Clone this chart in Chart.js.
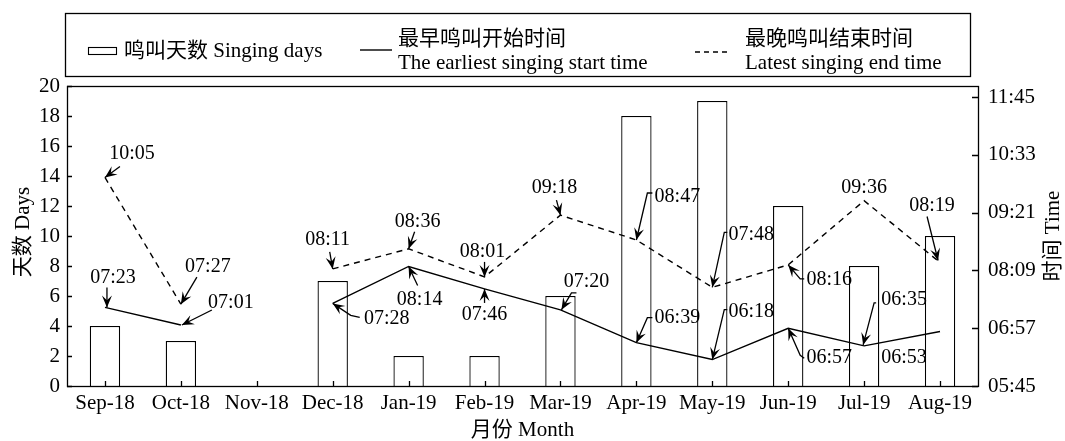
<!DOCTYPE html>
<html>
<head>
<meta charset="utf-8">
<script src="https://cdn.jsdelivr.net/npm/chart.js@4.4.1/dist/chart.umd.min.js"></script>
<style>
  body { margin: 0; background: #fff; }
</style>
</head>
<body>
<canvas id="chart" width="1065" height="441"></canvas>
<script>
// Data
const months = ['Sep-18', 'Oct-18', 'Nov-18', 'Dec-18', 'Jan-19', 'Feb-19', 'Mar-19', 'Apr-19', 'May-19', 'Jun-19', 'Jul-19', 'Aug-19'];
const singingDays = [4, 3, 0, 7, 2, 2, 6, 18, 19, 12, 8, 10];
const startTimes = ['07:23', '07:01', null, '07:28', '08:14', '07:46', '07:20', '06:39', '06:18', '06:57', '06:35', '06:53'];
const endTimes = ['10:05', '07:27', null, '08:11', '08:36', '08:01', '09:18', '08:47', '07:48', '08:16', '09:36', '08:19'];
const timeTicks = ['05:45', '06:57', '08:09', '09:21', '10:33', '11:45'];

// Callout placement (pixel offsets from the point): t = label centre, p = arrow path
const endNotes = [
    { i: 0, t: [27, -24], p: [[15, -11], [0, 0]] },
    { i: 1, t: [27, -37], p: [[16, -27], [0, 0]] },
    { i: 3, t: [-5, -29], p: [[-3, -17], [0, 0]] },
    { i: 4, t: [9, -27], p: [[6, -17], [0, 0]] },
    { i: 5, t: [-2, -25], p: [[0, -15], [0, 0]] },
    { i: 6, t: [-6, -27], p: [[-4, -15], [0, 0]] },
    { i: 7, t: [41, -43], p: [[16, -47], [11, -47], [0, 0]] },
    { i: 8, t: [39, -53], p: [[15, -55], [12, -55], [0, 0]] },
    { i: 9, t: [41, 15], p: [[16, 14], [12, 14], [0, 0]] },
    { i: 10, t: [0, -13] },
    { i: 11, t: [-8, -57], p: [[-13, -46], [-2, -2]] }
];
const startNotes = [
    { i: 0, t: [8, -30], p: [[2, -20], [2, 0]] },
    { i: 1, t: [50, -22], p: [[31, -15], [1, 0]] },
    { i: 3, t: [54, 15], p: [[27, 14], [18, 12], [0, 0]] },
    { i: 4, t: [11, 33], p: [[9, 19], [0, 0]] },
    { i: 5, t: [0, 26], p: [[0, 14], [0, 0]] },
    { i: 6, t: [26, -28], p: [[16, -17], [11, -17], [1, 0]] },
    { i: 7, t: [41, -25], p: [[16, -25], [11, -25], [0, 0]] },
    { i: 8, t: [39, -48], p: [[15, -50], [12, -50], [0, 0]] },
    { i: 9, t: [41, 30], p: [[16, 30], [12, 27], [0, 0]] },
    { i: 10, t: [40, -46], p: [[12, -43], [10, -43], [-1, -1]] },
    { i: 11, t: [-36, 26] }
];

const SERIF = "'Liberation Serif', 'Times New Roman', 'Noto Sans CJK SC', serif";

function toMin(s) {
    if (!s) return null;
    const p = s.split(':');
    return Number(p[0]) * 60 + Number(p[1]);
}

function toClock(m) {
    const h = Math.floor(m / 60);
    const mm = Math.round(m % 60);
    return String(h).padStart(2, '0') + ':' + String(mm).padStart(2, '0');
}

function arrowHead(ctx, x0, y0, x1, y1) {
    const a = Math.atan2(y1 - y0, x1 - x0);
    const c = Math.cos(a), s = Math.sin(a);
    const L = 12, W = 5;
    ctx.beginPath();
    ctx.moveTo(x1, y1);
    ctx.lineTo(x1 - L * c + W * s, y1 - L * s - W * c);
    ctx.lineTo(x1 - 0.6 * L * c, y1 - 0.6 * L * s);
    ctx.lineTo(x1 - L * c - W * s, y1 - L * s + W * c);
    ctx.closePath();
    ctx.fill();
}

function drawNotes(chart, notes, values) {
    const ctx = chart.ctx;
    const xs = chart.scales.x, ys = chart.scales.y1;
    notes.forEach(n => {
        const px = xs.getPixelForValue(n.i);
        const py = ys.getPixelForValue(toMin(values[n.i]));
        ctx.fillText(values[n.i], px + n.t[0], py + n.t[1]);
        if (!n.p) return;
        ctx.beginPath();
        n.p.forEach((q, k) => {
            if (k === 0) ctx.moveTo(px + q[0], py + q[1]);
            else ctx.lineTo(px + q[0], py + q[1]);
        });
        ctx.stroke();
        const a = n.p[n.p.length - 2], b = n.p[n.p.length - 1];
        arrowHead(ctx, px + a[0], py + a[1], px + b[0], py + b[1]);
    });
}

// Frame, inward ticks, axis titles, legend box and callouts
const decorations = {
    id: 'decorations',
    afterDraw(chart) {
        const ctx = chart.ctx;
        const area = chart.chartArea;
        const { x, y, y1 } = chart.scales;
        ctx.save();
        ctx.strokeStyle = '#000';
        ctx.fillStyle = '#000';
        ctx.lineWidth = 1.3;

        // plot frame
        ctx.strokeRect(Math.round(area.left) + 0.5, Math.round(area.top) + 0.5,
            Math.round(area.right - area.left), Math.round(area.bottom - area.top));

        // ticks pointing inwards
        ctx.beginPath();
        for (let v = 0; v <= 20; v += 2) {
            const py = Math.round(y.getPixelForValue(v)) + 0.5;
            ctx.moveTo(area.left, py);
            ctx.lineTo(area.left + 5, py);
        }
        timeTicks.forEach(t => {
            const py = Math.round(y1.getPixelForValue(toMin(t))) + 0.5;
            ctx.moveTo(area.right, py);
            ctx.lineTo(area.right - 6, py);
        });
        months.forEach((m, i) => {
            const px = Math.round(x.getPixelForValue(i)) + 0.5;
            ctx.moveTo(px, area.bottom);
            ctx.lineTo(px, area.bottom - 5);
        });
        ctx.stroke();

        // axis titles
        ctx.font = '21px ' + SERIF;
        ctx.textAlign = 'center';
        ctx.textBaseline = 'middle';
        ctx.fillText('月份 Month', (area.left + area.right) / 2, 430);
        ctx.save();
        ctx.translate(23, (area.top + area.bottom) / 2 - 4);
        ctx.rotate(-Math.PI / 2);
        ctx.fillText('天数 Days', 0, 0);
        ctx.restore();
        ctx.save();
        ctx.translate(1053, (area.top + area.bottom) / 2);
        ctx.rotate(-Math.PI / 2);
        ctx.fillText('时间 Time', 0, 0);
        ctx.restore();

        // legend
        ctx.strokeRect(65.5, 13.5, 905, 63);
        ctx.lineWidth = 1.1;
        ctx.strokeRect(88.5, 47.5, 28, 7);
        ctx.lineWidth = 1.4;
        ctx.beginPath();
        ctx.moveTo(360, 50);
        ctx.lineTo(392, 50);
        ctx.stroke();
        ctx.setLineDash([5, 4]);
        ctx.beginPath();
        ctx.moveTo(695, 52);
        ctx.lineTo(731, 52);
        ctx.stroke();
        ctx.setLineDash([]);
        ctx.textAlign = 'left';
        ctx.fillText('鸣叫天数 Singing days', 124, 51);
        ctx.fillText('最早鸣叫开始时间', 398, 39);
        ctx.fillText('The earliest singing start time', 398, 63);
        ctx.fillText('最晚鸣叫结束时间', 745, 39);
        ctx.fillText('Latest singing end time', 745, 63);

        // callouts
        ctx.font = '20px ' + SERIF;
        ctx.textAlign = 'center';
        ctx.lineWidth = 1.3;
        drawNotes(chart, endNotes, endTimes);
        drawNotes(chart, startNotes, startTimes);
        ctx.restore();
    }
};

const ctx = document.getElementById('chart').getContext('2d');
const chart = new Chart(ctx, {
    data: {
        labels: months,
        datasets: [
            {
                type: 'line',
                label: 'The earliest singing start time',
                data: startTimes.map(toMin),
                yAxisID: 'y1',
                borderColor: '#000',
                borderWidth: 1.4,
                pointRadius: 0,
                spanGaps: false,
                tension: 0,
                order: 1
            },
            {
                type: 'line',
                label: 'Latest singing end time',
                data: endTimes.map(toMin),
                yAxisID: 'y1',
                borderColor: '#000',
                borderWidth: 1.4,
                borderDash: [6, 5],
                pointRadius: 0,
                spanGaps: false,
                tension: 0,
                order: 1
            },
            {
                type: 'bar',
                label: 'Singing days',
                data: singingDays,
                yAxisID: 'y',
                backgroundColor: '#fff',
                borderColor: '#000',
                borderWidth: 1.3,
                barPercentage: 0.4,
                categoryPercentage: 1,
                order: 2
            }
        ]
    },
    options: {
        responsive: false,
        animation: false,
        layout: { padding: { top: 86, left: 0, right: 0, bottom: 0 } },
        plugins: {
            legend: { display: false },
            tooltip: { enabled: false }
        },
        scales: {
            x: {
                offset: true,
                grid: { display: false, drawTicks: false },
                border: { display: false },
                ticks: {
                    color: '#000',
                    font: { family: SERIF, size: 21 },
                    padding: 5,
                    maxRotation: 0,
                    autoSkip: false
                },
                afterFit: s => { s.height = 55; }
            },
            y: {
                position: 'left',
                min: 0,
                max: 20,
                grid: { display: false, drawTicks: false },
                border: { display: false },
                ticks: {
                    stepSize: 2,
                    color: '#000',
                    font: { family: SERIF, size: 21 },
                    padding: 7
                },
                afterFit: s => { s.width = 67; }
            },
            y1: {
                position: 'right',
                min: toMin('05:45'),
                max: 719,
                grid: { display: false, drawTicks: false },
                border: { display: false },
                afterBuildTicks: s => { s.ticks = timeTicks.map(t => ({ value: toMin(t) })); },
                ticks: {
                    color: '#000',
                    font: { family: SERIF, size: 21 },
                    padding: 10,
                    callback: v => toClock(v)
                },
                afterFit: s => { s.width = 87; }
            }
        }
    },
    plugins: [decorations]
});
</script>
</body>
</html>
